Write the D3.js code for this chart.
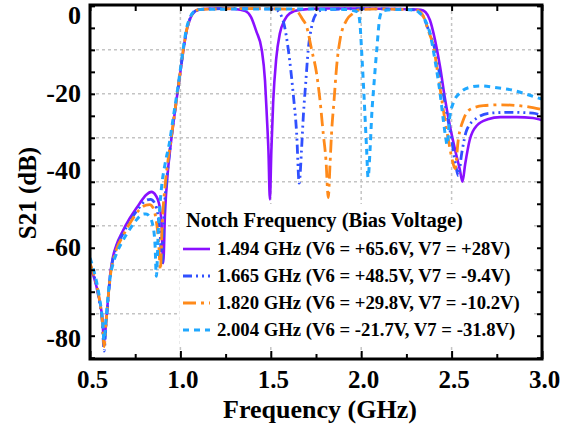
<!DOCTYPE html>
<html>
<head>
<meta charset="utf-8">
<script src="https://cdn.jsdelivr.net/npm/d3@7"></script>
<style>
  html, body { margin: 0; padding: 0; background: #fff; }
  svg text { font-family: "Liberation Serif", "Times New Roman", serif; font-weight: bold; fill: #000; }
</style>
</head>
<body>
<div id="container"></div>
<script>
// DATA: [frequency GHz, S21 dB]
const notch1494 = [
  [0.5,-59.5],[0.52,-61.5],[0.54,-64.5],[0.555,-67.5],[0.568,-71],[0.578,-76.5],[0.588,-72.5],[0.6,-66.5],
  [0.612,-61],[0.625,-57.5],[0.645,-54.5],[0.68,-51.3],[0.72,-48.3],[0.77,-45.2],[0.81,-43],[0.84,-42.3],
  [0.865,-43.2],[0.882,-45],[0.895,-49],[0.905,-58.5],[0.915,-47],[0.93,-38],[0.945,-32],[0.965,-25.5],
  [0.983,-20],[1.0,-15],[1.015,-10.5],[1.035,-5.5],[1.055,-2.8],[1.08,-1.3],[1.11,-0.8],[1.2,-0.6],
  [1.3,-0.7],[1.36,-1.2],[1.39,-2.5],[1.42,-5.8],[1.45,-10],[1.468,-17],[1.478,-25],[1.487,-33],
  [1.495,-44],[1.503,-33],[1.513,-22],[1.53,-12],[1.55,-6.3],[1.575,-3.3],[1.605,-1.7],[1.66,-0.9],
  [1.8,-0.6],[2.0,-0.6],[2.2,-0.7],[2.33,-0.9],[2.355,-1.4],[2.38,-3.2],[2.408,-7.7],[2.436,-13.8],
  [2.463,-21],[2.491,-27.4],[2.519,-32.7],[2.546,-37.3],[2.56,-40],[2.575,-36],[2.6,-30.5],[2.64,-27.2],
  [2.7,-25.8],[2.77,-25.3],[2.86,-25.3],[2.95,-25.5],[3.0,-26]
];
const notch1665 = [
  [0.5,-58.8],[0.52,-61],[0.54,-64.5],[0.555,-68],[0.568,-72],[0.578,-78.5],[0.588,-73],[0.6,-67],
  [0.612,-61.5],[0.625,-58],[0.645,-55],[0.68,-52],[0.72,-49],[0.77,-46],[0.81,-44.2],[0.835,-44],
  [0.86,-45],[0.875,-47.5],[0.888,-52],[0.898,-59],[0.91,-47],[0.928,-38],[0.945,-31.5],[0.965,-25.3],
  [0.983,-20],[1.0,-14.8],[1.015,-10.3],[1.035,-5.4],[1.055,-2.7],[1.08,-1.2],[1.11,-0.8],[1.3,-0.6],
  [1.5,-0.7],[1.53,-0.9],[1.551,-1.7],[1.575,-4.5],[1.597,-10],[1.624,-20],[1.643,-29],[1.657,-40.3],
  [1.67,-32.7],[1.68,-25],[1.693,-17.6],[1.707,-10],[1.726,-4.7],[1.753,-1.7],[1.78,-1.0],[1.9,-0.7],
  [2.1,-0.7],[2.3,-0.9],[2.33,-1.5],[2.345,-2.6],[2.37,-5.2],[2.4,-8.7],[2.436,-16],[2.473,-24.4],
  [2.5,-30.4],[2.524,-36.5],[2.537,-38.6],[2.556,-33.5],[2.584,-28.2],[2.64,-25.5],[2.71,-24.4],
  [2.82,-24.2],[2.95,-24.4],[3.0,-25]
];
const notch1820 = [
  [0.5,-58.5],[0.52,-61],[0.54,-64],[0.555,-67.5],[0.568,-71.5],[0.578,-77.5],[0.588,-72.5],[0.6,-66.5],
  [0.612,-61.5],[0.625,-58.5],[0.645,-55.5],[0.68,-52.5],[0.72,-49.5],[0.77,-46.5],[0.81,-45.3],[0.83,-45.2],
  [0.85,-46],[0.865,-48.5],[0.88,-54],[0.889,-60],[0.9,-49],[0.915,-41],[0.932,-35],[0.945,-31.3],
  [0.965,-25.3],[0.983,-20],[1.0,-14.8],[1.015,-10.3],[1.035,-5.4],[1.055,-2.7],[1.08,-1.2],[1.11,-0.8],
  [1.4,-0.6],[1.63,-0.8],[1.652,-1.5],[1.675,-3],[1.698,-4.7],[1.726,-10],[1.753,-15.3],[1.772,-21.4],
  [1.79,-29],[1.805,-35],[1.818,-43.6],[1.827,-36.5],[1.836,-29],[1.85,-21.4],[1.864,-13.8],[1.883,-7.7],
  [1.92,-3.2],[1.956,-1.7],[1.99,-0.9],[2.1,-0.7],[2.3,-0.9],[2.33,-1.5],[2.345,-2.5],[2.37,-5.5],
  [2.4,-9.3],[2.426,-16],[2.454,-23.6],[2.482,-30.4],[2.505,-35.3],[2.519,-37],[2.537,-30.4],[2.565,-25.9],
  [2.6,-23.6],[2.676,-22.7],[2.77,-22.5],[2.916,-22.9],[3.0,-23.6]
];
const notch2004 = [
  [0.5,-57.3],[0.52,-60],[0.54,-63.5],[0.555,-67],[0.568,-71],[0.578,-76],[0.588,-71.5],[0.6,-66],
  [0.612,-61.5],[0.625,-59],[0.645,-56.5],[0.68,-53.5],[0.72,-50.8],[0.76,-48.5],[0.79,-47.4],[0.81,-47.3],
  [0.83,-48],[0.848,-50],[0.86,-54.5],[0.867,-61.5],[0.878,-51],[0.895,-41.5],[0.915,-36],[0.94,-31],
  [0.96,-25.5],[0.98,-20.2],[0.998,-15],[1.013,-10.5],[1.032,-5.5],[1.052,-2.8],[1.078,-1.2],[1.11,-0.8],
  [1.5,-0.7],[1.9,-0.8],[1.975,-1.3],[1.986,-2],[1.995,-5],[2.002,-10],[2.012,-17.6],[2.021,-25],
  [2.03,-32.7],[2.038,-39],[2.049,-32.7],[2.058,-25],[2.071,-17.6],[2.086,-10],[2.104,-2.4],[2.12,-1.1],
  [2.2,-0.8],[2.3,-1.0],[2.325,-1.7],[2.35,-3],[2.38,-6.2],[2.408,-12.3],[2.436,-19.8],[2.454,-25.9],
  [2.469,-30.4],[2.475,-31.6],[2.49,-25.2],[2.509,-22.1],[2.546,-19.8],[2.602,-18.5],[2.657,-18.2],
  [2.731,-18.5],[2.841,-19.2],[2.952,-20.6],[3.0,-21.2]
];

const seriesData = [notch1494, notch1665, notch1820, notch2004];
const legendLabels = [
  "1.494 GHz (V6 = +65.6V, V7 = +28V)",
  "1.665 GHz (V6 = +48.5V, V7 = -9.4V)",
  "1.820 GHz (V6 = +29.8V, V7 = -10.2V)",
  "2.004 GHz (V6 = -21.7V, V7 = -31.8V)"
];
const xTicks = [0.5, 1.0, 1.5, 2.0, 2.5, 3.0];
const xMinorTicks = [0.75, 1.25, 1.75, 2.25, 2.75];
const yLabelTicks = [0, -20, -40, -60, -80];
const yTicks = [0, -5, -10, -15, -20, -25, -30, -35, -40, -45, -50, -55, -60, -65, -70, -75, -80];
const yGrid = [-10, -20, -30, -40, -50, -60, -70];
const xGrid = [1.0, 1.5, 2.0, 2.5];

// STYLES
const lineColors = ["#8a10ff", "#3050ff", "#ff8a1a", "#20a8ff"];
const lineDashes = [null, "9,4,2,4,2,4", "13,5,3,5", "6,5"];
const lineWidths = [2.6, 2.8, 2.8, 3];

const width = 576;
const height = 430;
const plot = { left: 90, right: 542, top: 5, bottom: 359 };

const svg = d3.create("svg")
  .attr("width", width)
  .attr("height", height)
  .attr("viewBox", `0 0 ${width} ${height}`);

// SCALES
const x = d3.scaleLinear().domain([0.5, 3.0]).range([plot.left, plot.right]);
const y = d3.scaleLinear().domain([0.2, -80.3]).range([plot.top, plot.bottom]);
// the y labels in the original sit a bit off their gridlines
const yLabel = d3.scaleLinear().domain(yLabelTicks).range([15, 93, 170, 247, 338]);

// GRID
const grid = svg.append("g").attr("stroke", "#c4c4c4").attr("stroke-width", 1.5).attr("stroke-dasharray", "3,3");
grid.selectAll("line.h").data(yGrid).join("line")
  .attr("x1", plot.left).attr("x2", plot.right)
  .attr("y1", d => y(d)).attr("y2", d => y(d));
grid.selectAll("line.v").data(xGrid).join("line")
  .attr("x1", d => x(d)).attr("x2", d => x(d))
  .attr("y1", plot.top).attr("y2", plot.bottom);

// CURVES
svg.append("clipPath").attr("id", "clip")
  .append("rect").attr("x", plot.left).attr("y", plot.top)
  .attr("width", plot.right - plot.left).attr("height", plot.bottom - plot.top);

const line = d3.line().x(d => x(d[0])).y(d => y(d[1])).curve(d3.curveMonotoneX);
svg.append("g").attr("clip-path", "url(#clip)")
  .selectAll("path").data(seriesData).join("path")
  .attr("d", line)
  .attr("fill", "none")
  .attr("stroke", (d, i) => lineColors[i])
  .attr("stroke-width", (d, i) => lineWidths[i])
  .attr("stroke-dasharray", (d, i) => lineDashes[i])
  .attr("stroke-linejoin", "round");

// AXES (ticks point inward)
const tickStyle = g => {
  g.select(".domain").remove();
  g.selectAll(".tick line").attr("stroke", "#000").attr("stroke-width", 2);
};
svg.append("g").attr("transform", `translate(0,${plot.bottom})`)
  .call(d3.axisBottom(x).tickValues(xTicks).tickSizeInner(-8).tickSizeOuter(0).tickPadding(11).tickFormat(d3.format(".1f")))
  .call(tickStyle)
  .call(g => g.selectAll("text").attr("font-size", 25).attr("font-family", null).attr("dx", 2));
svg.append("g").attr("transform", `translate(0,${plot.bottom})`)
  .call(d3.axisBottom(x).tickValues(xMinorTicks).tickSizeInner(-5).tickSizeOuter(0).tickFormat(""))
  .call(tickStyle);
svg.append("g").attr("transform", `translate(0,${plot.top})`)
  .call(d3.axisTop(x).tickValues(xTicks.concat(xMinorTicks)).tickSizeInner(-6).tickSizeOuter(0).tickFormat(""))
  .call(tickStyle);
svg.append("g").attr("transform", `translate(${plot.left},0)`)
  .call(d3.axisLeft(y).tickValues(yTicks).tickSizeInner(-5).tickSizeOuter(0).tickFormat(""))
  .call(tickStyle);
svg.append("g").attr("transform", `translate(${plot.right},0)`)
  .call(d3.axisRight(y).tickValues(yTicks).tickSizeInner(-5).tickSizeOuter(0).tickFormat(""))
  .call(tickStyle);
svg.append("g").attr("transform", `translate(81,0)`)
  .call(d3.axisLeft(yLabel).tickValues(yLabelTicks).tickSize(0).tickPadding(0).tickFormat(d => String(d)))
  .call(g => g.select(".domain").remove())
  .call(g => g.selectAll("text").attr("font-size", 26).attr("font-family", null));

// FRAME
svg.append("rect")
  .attr("x", plot.left).attr("y", plot.top)
  .attr("width", plot.right - plot.left).attr("height", plot.bottom - plot.top)
  .attr("fill", "none").attr("stroke", "#000").attr("stroke-width", 3);

// AXIS TITLES
svg.append("text")
  .attr("x", 320).attr("y", 418)
  .attr("text-anchor", "middle").attr("font-size", 26)
  .text("Frequency (GHz)");
svg.append("text")
  .attr("transform", "translate(36,193) rotate(-90)")
  .attr("text-anchor", "middle").attr("font-size", 25)
  .text("S21 (dB)");

// LEGEND
const legend = svg.append("g");
legend.append("rect")
  .attr("x", 180).attr("y", 204).attr("width", 352).attr("height", 140)
  .attr("fill", "#fff");
legend.append("text")
  .attr("x", 186).attr("y", 227).attr("font-size", 20.5)
  .text("Notch Frequency (Bias Voltage)");
const rows = legend.selectAll("g.row").data(legendLabels).join("g")
  .attr("class", "row")
  .attr("transform", (d, i) => `translate(0,${249 + i * 27})`);
rows.append("line")
  .attr("x1", 183).attr("x2", 210).attr("y1", 0).attr("y2", 0)
  .attr("stroke", (d, i) => lineColors[i])
  .attr("stroke-width", (d, i) => lineWidths[i])
  .attr("stroke-dasharray", (d, i) => lineDashes[i]);
rows.append("text")
  .attr("x", 217).attr("y", 6).attr("font-size", 18.7)
  .text(d => d);

document.getElementById("container").append(svg.node());
</script>
</body>
</html>
